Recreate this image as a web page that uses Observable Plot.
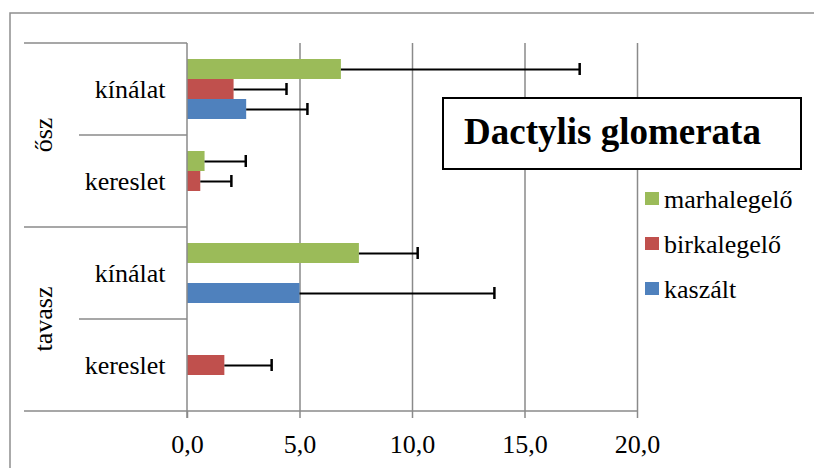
<!DOCTYPE html>
<html><head><meta charset="utf-8">
<script src="https://cdn.jsdelivr.net/npm/d3@7"></script>
<script src="https://cdn.jsdelivr.net/npm/@observablehq/plot@0.6"></script>
<style>
body{margin:0;background:#fff}
#chart{position:relative;width:814px;height:468px}
#chart svg text{font-family:"Liberation Serif",serif}
</style>
</head><body><div id="chart"></div>
<script>
// ---- data ----
const seasons = ["ősz", "ősz", "tavasz", "tavasz"];
const types = ["kínálat", "kereslet", "kínálat", "kereslet"];
const seriesNames = ["marhalegelő", "birkalegelő", "kaszált"];
const colors = ["#9BBB59", "#C0504D", "#4F81BD"];
const marhalegelo = [6.84, 0.78, 7.64, 0];
const marhalegeloErr = [10.59, 1.81, 2.59, 0];
const birkalegelo = [2.07, 0.59, 0, 1.66];
const birkalegeloErr = [2.33, 1.36, 0, 2.08];
const kaszalt = [2.63, 0, 5.0, 0];
const kaszaltErr = [2.70, 0, 8.64, 0];
const xTicks = [0, 5, 10, 15, 20];
const chartTitle = "Dactylis glomerata";

(function () {
const values = [marhalegelo, birkalegelo, kaszalt];
const errors = [marhalegeloErr, birkalegeloErr, kaszaltErr];
const catKeys = seasons.map((s, i) => s + " " + types[i]);
const catRows = catKeys.map((k, i) => ({key: k, label: types[i], season: seasons[i]}));
const rows = [];
catKeys.forEach((c, i) => seriesNames.forEach((s, j) =>
  rows.push({cat: c, series: s, value: values[j][i], err: errors[j][i]})));
const withErr = rows.filter(d => d.value > 0);

const font = "Liberation Serif";
const grey = "#8a8a8a";

const chart = Plot.plot({
  width: 814, height: 468,
  marginLeft: 187, marginRight: 177, marginTop: 42, marginBottom: 57,
  facet: {marginTop: 0, marginBottom: 0, marginLeft: 0, marginRight: 0},
  style: {fontFamily: font, fontSize: "26px", background: "white", color: "black", overflow: "visible"},
  x: {domain: [0, 20]},
  y: {domain: seriesNames, axis: null, paddingInner: 0, paddingOuter: 0.77},
  fy: {domain: catKeys, axis: null, padding: 0},
  color: {domain: seriesNames, range: colors},
  marks: [
    Plot.ruleX(xTicks.slice(1), {stroke: grey, strokeWidth: 1.5}),
    Plot.barX(rows, {x: "value", y: "series", fy: "cat", fill: "series"}),
    Plot.ruleY(withErr, {x1: "value", x2: d => d.value + d.err, y: "series", fy: "cat", stroke: "black", strokeWidth: 2}),
    Plot.tickX(withErr, {x: d => d.value + d.err, y: "series", fy: "cat", stroke: "black", strokeWidth: 2.5, insetTop: 4, insetBottom: 4}),
    Plot.text(catRows, {fy: "key", text: "label", frameAnchor: "left", textAnchor: "end", dx: -22, fill: "black", fontFamily: font, fontSize: 26}),
    Plot.axisX({ticks: xTicks, tickFormat: d => d.toFixed(1).replace(".", ","), tickSize: 7, tickPadding: 16, stroke: grey, strokeWidth: 1.5, fill: "black", label: null, fontFamily: font, fontSize: 26})
  ]
});
document.getElementById("chart").appendChild(chart);

// ---- frame lines, group labels, title box and legend drawn with the plot's scales ----
const svg = d3.select(chart);
const xs = chart.scale("x"), fys = chart.scale("fy");
const fyPos = k => fys.apply(k);
const bw = fys.bandwidth;
const yTop = fyPos(catKeys[0]);
const yBottom = fyPos(catKeys[catKeys.length - 1]) + bw;
const x0 = xs.apply(0), x20 = xs.apply(20);
const g = svg.append("g").attr("stroke", grey).attr("stroke-width", 1.5).attr("fill", "none");
g.append("path").attr("d", `M10,468V13H814`).attr("stroke", "#8f8f8f");
g.append("line").attr("x1", x0).attr("x2", x0).attr("y1", yTop).attr("y2", yBottom + 7);
g.append("line").attr("x1", 24).attr("x2", x20).attr("y1", yBottom).attr("y2", yBottom);
catKeys.forEach((k, i) => {
  const y = fyPos(k);
  const isGroupStart = i === 0 || seasons[i] !== seasons[i - 1];
  g.append("line").attr("x1", isGroupStart ? 24 : 79).attr("x2", x0).attr("y1", y).attr("y2", y);
});
const seasonNames = Array.from(new Set(seasons));
seasonNames.forEach(s => {
  const idx = seasons.map((v, i) => v === s ? i : -1).filter(i => i >= 0);
  const y0 = fyPos(catKeys[idx[0]]), y1 = fyPos(catKeys[idx[idx.length - 1]]) + bw;
  const cy = (y0 + y1) / 2;
  svg.append("text").attr("transform", `translate(52,${cy}) rotate(-90)`)
    .attr("font-family", font).attr("font-size", 26)
    .style("text-anchor", "middle").attr("fill", "black").text(s);
});
svg.append("rect").attr("x", 443).attr("y", 98).attr("width", 358).attr("height", 71)
  .attr("fill", "white").attr("stroke", "black").attr("stroke-width", 2);
svg.append("text").attr("x", 464).attr("y", 144).attr("font-family", font).attr("font-size", 37)
  .style("text-anchor", "start").style("font-weight", "bold").attr("fill", "black").text(chartTitle);
const cs = chart.scale("color");
seriesNames.forEach((s, i) => {
  svg.append("rect").attr("x", 645).attr("y", 192 + i * 45).attr("width", 14).attr("height", 13).attr("fill", cs.apply(s));
  svg.append("text").attr("x", 664).attr("y", 208 + i * 45).attr("font-family", font).attr("font-size", 26)
    .style("text-anchor", "start").attr("fill", "black").text(s);
});
})();
</script>
</body></html>
